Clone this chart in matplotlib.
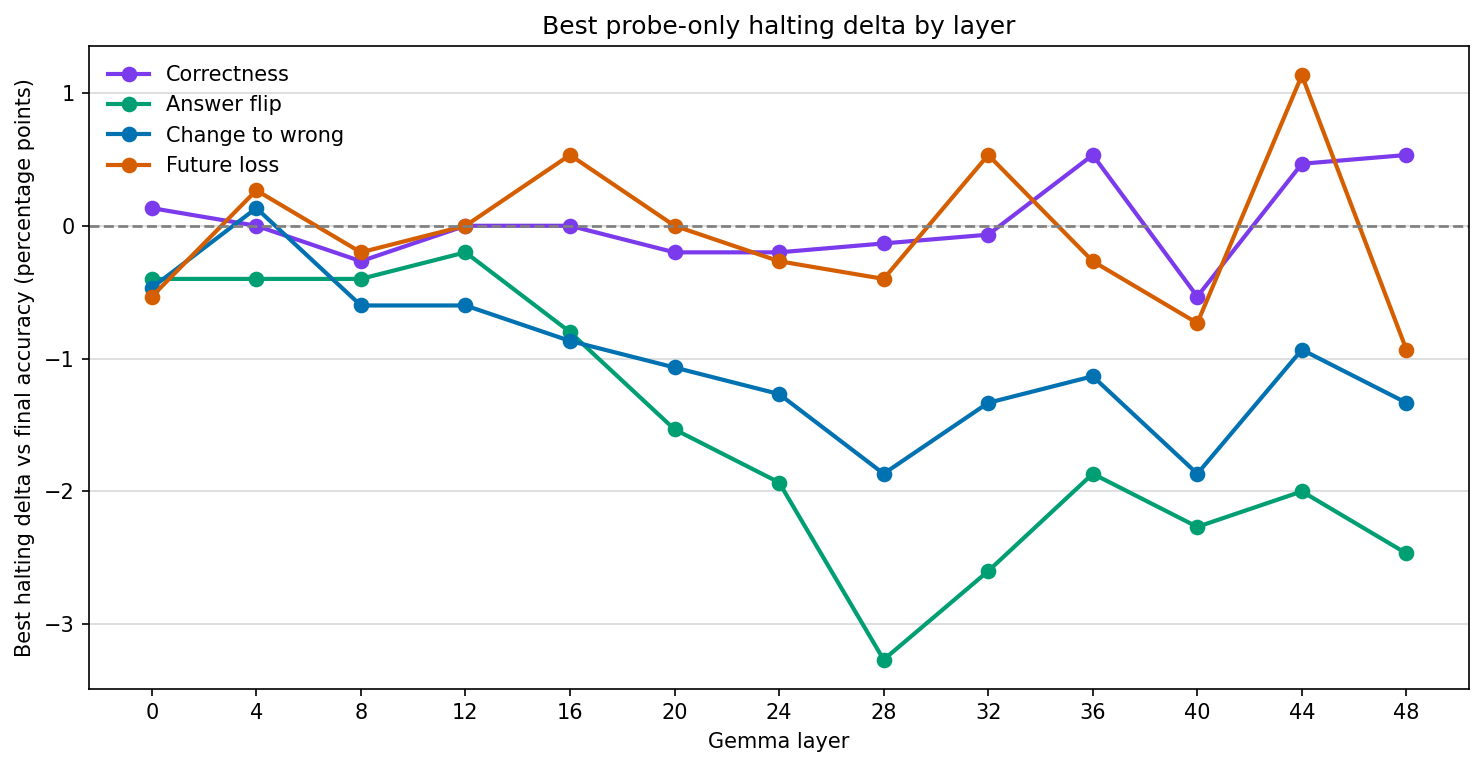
import matplotlib
matplotlib.use("Agg")
import matplotlib.pyplot as plt

layers = [0, 4, 8, 12, 16, 20, 24, 28, 32, 36, 40, 44, 48]

correctness = [0.133, 0.0, -0.267, 0.0, 0.0, -0.2, -0.2, -0.133, -0.067, 0.533, -0.533, 0.467, 0.533]
answer_flip = [-0.4, -0.4, -0.4, -0.2, -0.8, -1.533, -1.933, -3.267, -2.6, -1.867, -2.267, -2.0, -2.467]
change_to_wrong = [-0.467, 0.133, -0.6, -0.6, -0.867, -1.067, -1.267, -1.867, -1.333, -1.133, -1.867, -0.933, -1.333]
future_loss = [-0.533, 0.267, -0.2, 0.0, 0.533, 0.0, -0.267, -0.4, 0.533, -0.267, -0.733, 1.133, -0.933]

series = [
    ("Correctness", correctness, "#7c3aed"),
    ("Answer flip", answer_flip, "#009e73"),
    ("Change to wrong", change_to_wrong, "#0072b2"),
    ("Future loss", future_loss, "#d55e00"),
]

fig, ax = plt.subplots(figsize=(1484 / 150, 768 / 150), dpi=150)
for name, vals, col in series:
    ax.plot(layers, vals, marker="o", markersize=6.5, linewidth=2, color=col, label=name)

ax.axhline(0, color="gray", linestyle="--", linewidth=1.3)
ax.grid(axis="y", color="#dddddd", linewidth=0.9)
ax.set_axisbelow(True)
ax.set_xticks(layers)
ax.set_xlabel("Gemma layer")
ax.set_ylabel("Best halting delta vs final accuracy (percentage points)")
ax.set_title("Best probe-only halting delta by layer", fontsize=12)
ax.legend(loc="upper left", frameon=False)
fig.subplots_adjust(left=0.06, right=0.99, top=0.94, bottom=0.103)
fig.savefig("out.png", dpi=150)
